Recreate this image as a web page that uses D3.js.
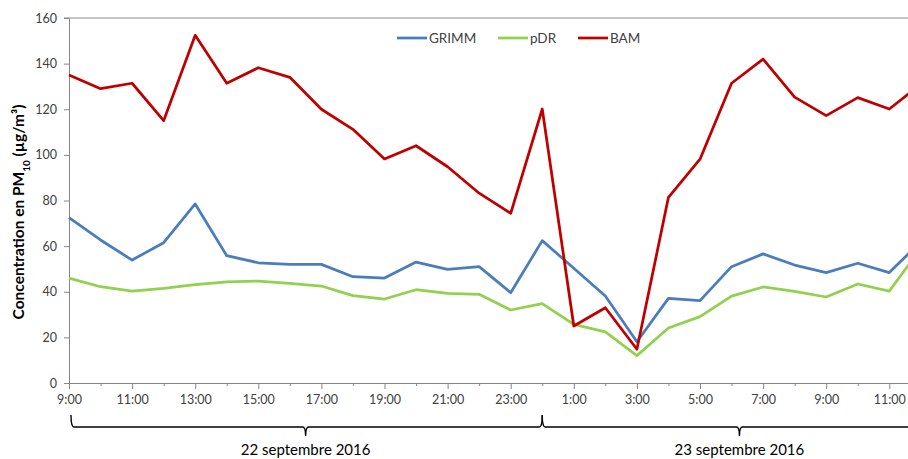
<!DOCTYPE html>
<html>
<head>
<meta charset="utf-8">
<script src="https://cdn.jsdelivr.net/npm/d3@7"></script>
<style>
  html, body { margin: 0; padding: 0; background: #fff; }
  svg { display: block; font-family: Lato, "Open Sans", sans-serif; }
</style>
</head>
<body>
<svg id="chart" width="908" height="459"></svg>
<script>
// Hourly categories: 22 Sept 9:00 -> 23 Sept 12:00
const hours = ["9:00","10:00","11:00","12:00","13:00","14:00","15:00","16:00","17:00","18:00","19:00","20:00","21:00","22:00","23:00","0:00",
               "1:00","2:00","3:00","4:00","5:00","6:00","7:00","8:00","9:00","10:00","11:00","12:00"];
const grimm = [72.5,62.7,53.9,61.5,78.5,55.8,52.7,52.0,52.0,46.6,46.0,53.0,49.8,51.0,39.6,62.4,
               50.3,38.1,18.1,37.1,36.1,51.0,56.6,51.7,48.4,52.5,48.4,62.0];
const pdr   = [46.0,42.2,40.3,41.5,43.1,44.3,44.7,43.7,42.5,38.3,36.8,40.9,39.3,38.9,32.0,34.8,
               25.7,22.4,12.0,24.1,29.1,38.1,42.1,40.2,37.7,43.4,40.3,59.0];
const bam   = [135.0,129.0,131.4,115.0,152.4,131.4,138.2,134.0,120.0,111.2,98.2,104.0,94.8,83.2,74.4,120.1,
               25.0,33.0,14.8,81.4,98.1,131.4,142.0,125.3,117.2,125.1,120.1,131.0];
const yTicks = [0,20,40,60,80,100,120,140,160];
const seriesNames = ["GRIMM","pDR","BAM"];
const seriesColors = ["#4a7ebb","#92d050","#c00000"];
const days = [
  {label: "22 septembre 2016", from: 0, to: 15},
  {label: "23 septembre 2016", from: 15, to: 27.5}
];

const svg = d3.select("#chart");
const mLeft = 69, mTop = 18, mBottom = 383, step = 31.55;
const idx = hours.map((h, i) => i);
const x = d3.scaleLinear().domain([0, hours.length - 1]).range([mLeft, mLeft + step * (hours.length - 1)]);
const y = d3.scaleLinear().domain([0, 160]).range([mBottom, mTop]);

// top gridline
svg.append("line")
  .attr("x1", mLeft - 5).attr("x2", 908)
  .attr("y1", y(160)).attr("y2", y(160))
  .attr("stroke", "#8c8c8c").attr("stroke-width", 1);

// y axis
const yAxis = svg.append("g").attr("transform", `translate(${mLeft},0)`)
  .call(d3.axisLeft(y).tickValues(yTicks).tickSize(5).tickSizeOuter(0).tickPadding(7));
yAxis.select(".domain").attr("stroke", "#868686");
yAxis.selectAll(".tick line").attr("stroke", "#868686");
yAxis.selectAll("text").attr("fill", "#404040").style("font-size", "12.5px").style("font-family", "Lato");

// x axis
const xAxis = svg.append("g").attr("transform", `translate(0,${mBottom})`)
  .call(d3.axisBottom(x).tickValues(idx).tickFormat(i => i % 2 === 0 ? hours[i] : "").tickSize(6).tickSizeOuter(0).tickPadding(6));
xAxis.select(".domain").attr("stroke", "#868686").attr("d", `M${mLeft},0.5H908`);
xAxis.selectAll(".tick line").attr("stroke", "#868686").attr("y2", i => i % 2 === 0 ? 6 : 3);
xAxis.selectAll("text").attr("fill", "#404040").style("font-size", "12.5px").style("font-family", "Lato");

// lines
const line = d3.line().x((d, i) => x(i)).y(d => y(d));
[grimm, pdr, bam].forEach((s, k) => {
  svg.append("path").datum(s)
    .attr("fill", "none")
    .attr("stroke", seriesColors[k])
    .attr("stroke-width", 2.75)
    .attr("stroke-linejoin", "round")
    .attr("d", line);
});

// y axis title
const yt = svg.append("text")
  .attr("transform", `translate(24,212) rotate(-90)`)
  .attr("text-anchor", "middle")
  .style("font-size", "15.5px").style("font-weight", "bold").attr("fill", "#000");
yt.append("tspan").text("Concentration en PM");
yt.append("tspan").text("10").attr("baseline-shift", "sub").style("font-size", "10px");
yt.append("tspan").text(" (µg/m³)");

// legend
const legendPos = [397, 498, 578];
seriesNames.forEach((n, k) => {
  const g = svg.append("g").attr("transform", `translate(${legendPos[k]},38)`);
  g.append("line").attr("x1", 0).attr("x2", 30).attr("y1", 0).attr("y2", 0)
    .attr("stroke", seriesColors[k]).attr("stroke-width", 2.75);
  g.append("text").attr("x", 32).attr("y", 0).attr("dy", "0.35em")
    .attr("fill", "#404040").style("font-size", "13.5px").text(n);
});

// day braces
const by = 427;
days.forEach(d => {
  const x0 = x(d.from) + (d.from === 0 ? 2 : 0), x1 = x(d.to), mid = (x(d.from) + x(d.to)) / 2;
  svg.append("path")
    .attr("fill", "none").attr("stroke", "#000").attr("stroke-width", 1.4)
    .attr("d", `M${x0},${by-12} Q${x0},${by} ${x0+3},${by} L${mid-3},${by} Q${mid},${by} ${mid},${by+9} Q${mid},${by} ${mid+3},${by} L${x1-3},${by} Q${x1},${by} ${x1},${by-12}`);
  svg.append("text").attr("x", mid).attr("y", 455)
    .attr("text-anchor", "middle").attr("fill", "#000")
    .style("font-size", "15px").text(d.label);
});
</script>
</body>
</html>
